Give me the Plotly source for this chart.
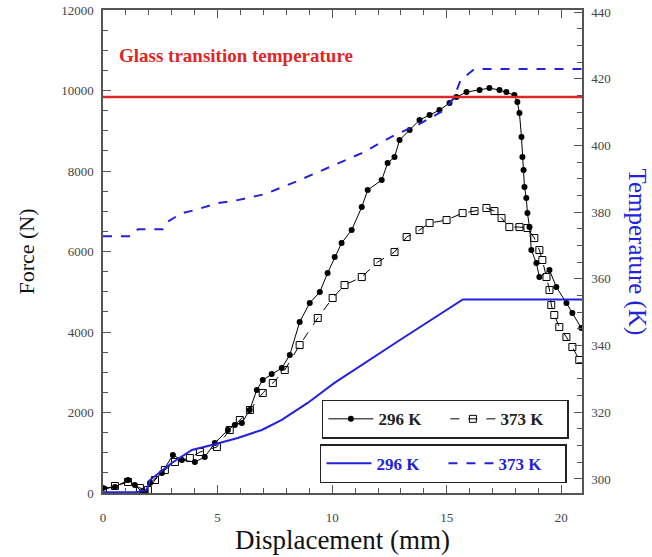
import plotly.graph_objects as go

# ---- data ----
disp_f296 = [0, 0.52, 1.09, 1.39, 1.70, 1.87, 2.05, 2.57, 3.05, 3.44, 4.01, 4.44, 4.88, 5.45, 5.75, 6.06,
             6.4, 6.71, 6.97, 7.36, 7.8, 8.15, 8.58, 9.02, 9.46, 9.80, 10.11, 10.41, 10.85, 11.29, 11.55,
             12.16, 12.42, 12.72, 12.94, 13.38, 13.81, 14.25, 14.68, 15.12, 15.42, 15.86, 16.43, 16.86,
             17.3, 17.6, 17.95, 18.08, 18.17, 18.26, 18.30, 18.35, 18.39, 18.47, 18.52, 18.61, 18.69,
             18.91, 19.04, 19.48, 19.78, 20.22, 20.48, 20.87]
force_296 = [124, 150, 323, 200, 25, 25, 248, 497, 944, 820, 770, 894, 1242, 1565, 1690, 1739,
             2062, 2559, 2807, 2956, 3105, 3428, 4248, 4720, 4993, 5465, 5862, 6210, 6533, 7104, 7527,
             7775, 8197, 8346, 8769, 9017, 9265, 9390, 9514, 9688, 9837, 9961, 10011, 10060,
             10011, 9961, 9886, 9712, 9439, 8843, 8346, 8023, 7601, 7328, 6955, 6607, 6036,
             5713, 5365, 5539, 5117, 4720, 4471, 4099]

disp_f373 = [0, 0.52, 1.09, 1.61, 1.96, 2.27, 2.70, 3.14, 3.79, 4.23, 4.97, 5.53, 5.97, 6.41, 6.97, 7.41,
             7.93, 8.58, 9.37, 10.02, 10.54, 11.29, 11.98, 12.72, 13.25, 13.81, 14.25, 14.99, 15.69,
             16.21, 16.73, 17.08, 17.39, 17.73, 18.17, 18.52, 18.82, 19.04, 19.17, 19.35, 19.48, 19.56,
             19.69, 19.91, 20.22, 20.48, 20.78]
force_373 = [75, 174, 273, 124, 75, 323, 571, 770, 869, 1018, 1143, 1565, 1813, 2062, 2484, 2732,
             3055, 3676, 4347, 4844, 5167, 5365, 5738, 5986, 6359, 6533, 6707, 6781, 6955,
             7005, 7080, 7005, 6831, 6607, 6607, 6583, 6334, 6036, 5788, 5365, 5043, 4670,
             4422, 4123, 3875, 3627, 3304]

disp_t296 = [0, 1.5, 1.9, 2.05, 3.0, 3.88, 4.75, 5.88, 6.93, 7.8, 8.93, 10.1, 12.94, 15.7, 20.9]
temp_296 = [296.0, 296.1, 296.7, 299.7, 304.8, 308.7, 310.2, 312.3, 314.7, 317.7, 322.8, 328.8, 341.6, 353.8, 353.8]

disp_t373 = [0, 1.18, 1.53, 2.61, 2.79, 3.44, 4.0, 5.0, 5.88, 7.06, 8.37, 9.8, 11.29, 12.72, 13.8,
             14.9, 15.3, 15.6, 16.2, 20.9]
temp_373 = [372.8, 372.8, 374.9, 374.9, 377.0, 379.7, 380.6, 382.7, 383.6, 385.4, 389.0, 393.2, 397.7,
            403.1, 406.4, 410.6, 414.2, 419.5, 422.9, 422.9]

glass_force = 9840
series_names = ["296 K", "373 K"]

SERIF = "Liberation Serif"
BLUE = "#2222dd"
RED = "#e02626"
AX = "#555555"

fig = go.Figure()
fig.add_trace(go.Scatter(x=disp_t296, y=temp_296, yaxis="y2", mode="lines", name=series_names[0],
                         line=dict(color=BLUE, width=2), legend="legend2"))
fig.add_trace(go.Scatter(x=disp_t373, y=temp_373, yaxis="y2", mode="lines", name=series_names[1],
                         line=dict(color=BLUE, width=2, dash="dash"), legend="legend2"))
fig.add_trace(go.Scatter(x=disp_f296, y=force_296, mode="lines+markers", name=series_names[0],
                         line=dict(color="black", width=1),
                         marker=dict(symbol="circle", size=6, color="black"), legend="legend"))
fig.add_trace(go.Scatter(x=disp_f373, y=force_373, mode="lines+markers", name=series_names[1],
                         line=dict(color="black", width=1, dash="dash"),
                         marker=dict(symbol="square-open", size=7, color="black", line=dict(width=1)),
                         legend="legend"))

fig.add_shape(type="line", xref="paper", x0=0, x1=1, yref="y", y0=glass_force, y1=glass_force,
              line=dict(color=RED, width=2.5))

fig.add_annotation(x=0.03, y=0.905, xref="paper", yref="paper", xanchor="left", yanchor="middle",
                   text="<b>Glass transition temperature</b>", showarrow=False,
                   font=dict(family=SERIF, size=19, color=RED))
fig.add_annotation(x=1.115, y=0.5, xref="paper", yref="paper", xanchor="center", yanchor="middle",
                   text="Temperature (K)", textangle=90, showarrow=False,
                   font=dict(family=SERIF, size=25, color=BLUE))

tickfont = dict(family=SERIF, size=13, color="#444444")
fig.update_layout(
    width=652, height=557,
    margin=dict(l=103, r=70, t=10, b=64, autoexpand=False),
    paper_bgcolor="white", plot_bgcolor="white",
    xaxis=dict(range=[0, 20.9], tick0=0, dtick=5, ticks="inside", ticklen=8, tickwidth=1.2,
               tickcolor=AX, showline=True, linecolor=AX, linewidth=1.5, mirror="ticks",
               showgrid=False, zeroline=False, tickfont=tickfont, automargin=False,
               ticklabelstandoff=12,
               minor=dict(dtick=1, ticks="inside", ticklen=5, tickcolor=AX, showgrid=False),
               title=dict(text="Displacement (mm)", font=dict(family=SERIF, size=27, color="#111"),
                          standoff=0)),
    yaxis=dict(range=[0, 12000], tick0=0, dtick=2000, tickformat="d", ticks="inside", ticklen=8,
               tickwidth=1.2, tickcolor=AX, showline=True, linecolor=AX, linewidth=1.5, showgrid=False,
               zeroline=False, tickfont=tickfont, ticklabelstandoff=5, automargin=False,
               ticklabeloverflow="allow",
               minor=dict(dtick=500, ticks="inside", ticklen=5, tickcolor=AX, showgrid=False),
               title=dict(text="Force (N)", font=dict(family=SERIF, size=22, color="#111"), standoff=20)),
    yaxis2=dict(range=[295.8, 440.6], overlaying="y", side="right", tick0=300, dtick=20,
                ticks="inside", ticklen=8, tickwidth=1.2, tickcolor=AX, showline=True, linecolor=AX,
                linewidth=1.5, showgrid=False, zeroline=False, tickfont=tickfont, ticklabelstandoff=5,
                automargin=False, ticklabeloverflow="allow",
                minor=dict(dtick=5, ticks="inside", ticklen=5, tickcolor=AX, showgrid=False)),
    legend=dict(x=0.457, y=0.193, xanchor="left", yanchor="top", orientation="h",
                bordercolor="#222", borderwidth=1.5, bgcolor="white", itemwidth=45, entrywidth=62,
                font=dict(family=SERIF, size=17, color="#222", weight="bold"), traceorder="normal"),
    legend2=dict(x=0.453, y=0.101, xanchor="left", yanchor="top", orientation="h",
                 bordercolor="#222", borderwidth=1.5, bgcolor="white", itemwidth=45, entrywidth=62,
                 font=dict(family=SERIF, size=17, color=BLUE, weight="bold"), traceorder="normal"),
    showlegend=True,
)

fig.write_html("out.html", config={"displayModeBar": False},
               post_script="document.body.style.margin='0';document.body.style.overflow='hidden';")
